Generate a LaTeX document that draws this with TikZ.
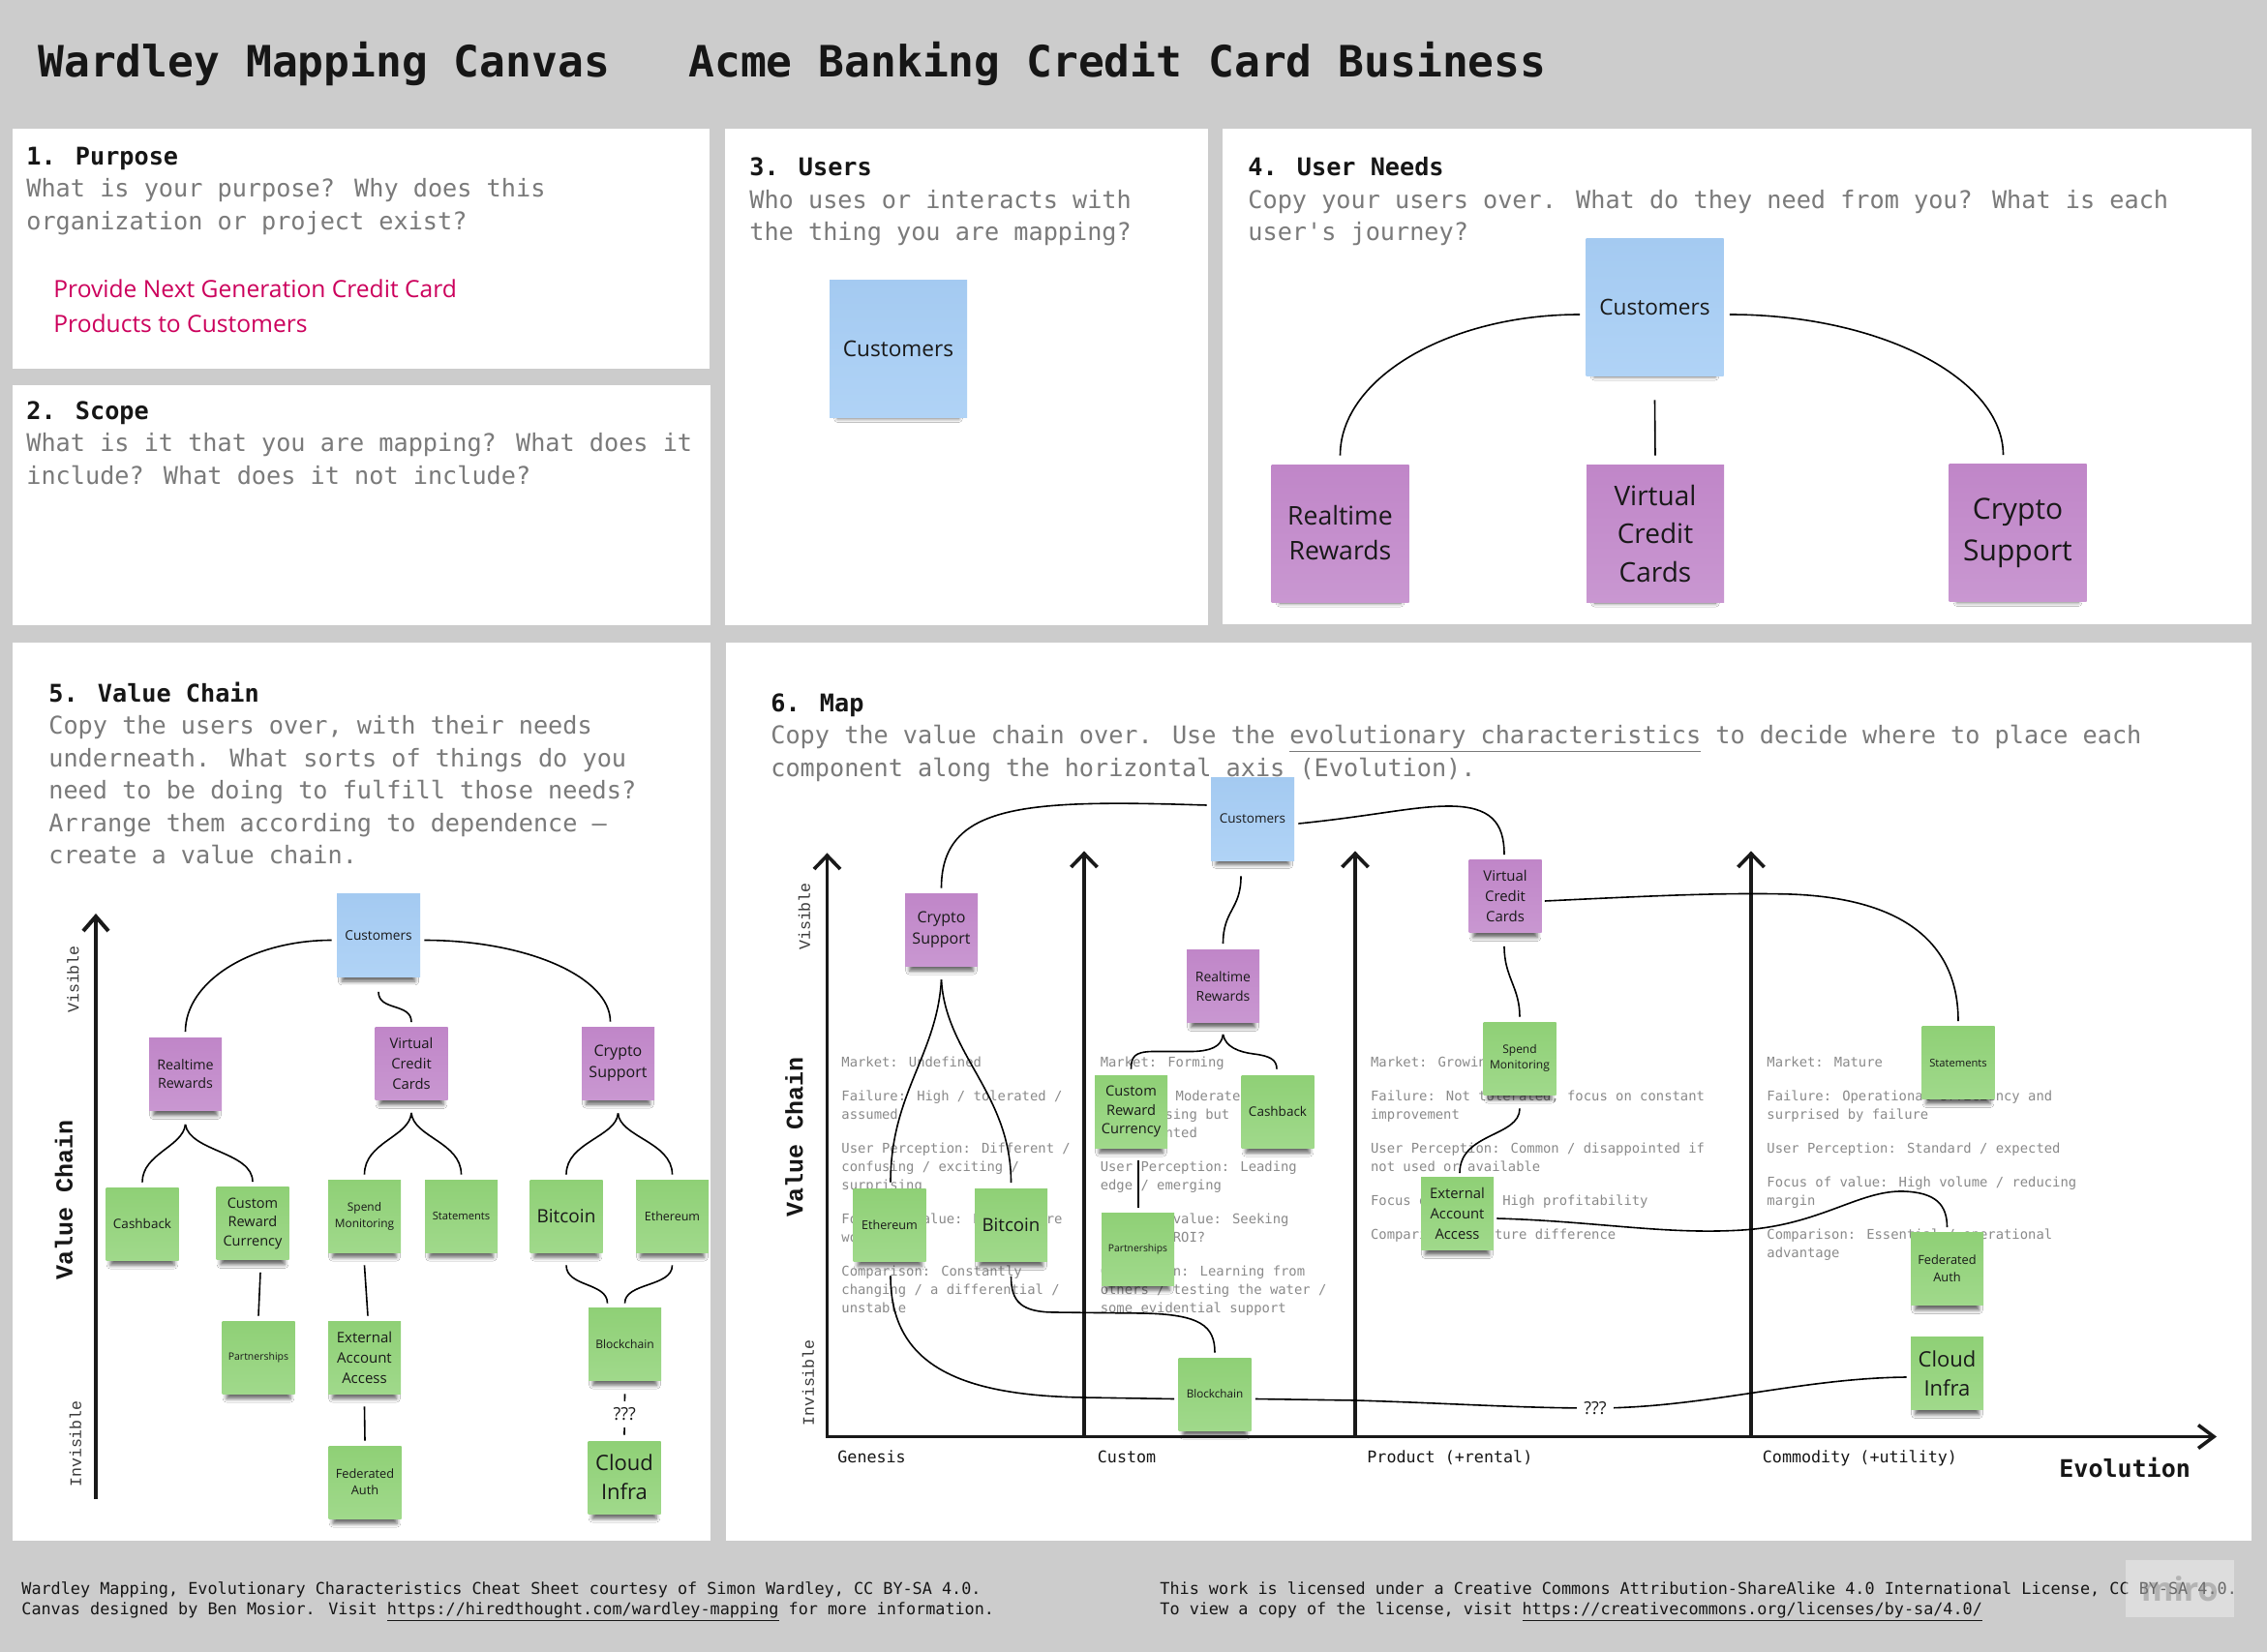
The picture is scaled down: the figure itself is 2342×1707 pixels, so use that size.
\documentclass[tikz,border=0pt]{standalone}
\usepackage{fontspec}
\setmainfont{Open Sans}
\newfontfamily\plex{DejaVu Sans Mono}
\newfontfamily\cour{Liberation Mono}
\usetikzlibrary{calc,shadows.blur}
\definecolor{bgray}{RGB}{204,204,204}
\definecolor{bodygray}{RGB}{122,122,122}
\definecolor{headblack}{RGB}{22,22,22}
\definecolor{chargray}{RGB}{138,138,138}
\definecolor{pinkred}{RGB}{204,0,92}
\definecolor{blueA}{RGB}{164,202,241}
\definecolor{blueB}{RGB}{176,211,246}
\definecolor{purpA}{RGB}{192,134,200}
\definecolor{purpB}{RGB}{201,151,209}
\definecolor{greenA}{RGB}{143,208,118}
\definecolor{greenB}{RGB}{160,217,139}
\definecolor{notetext}{RGB}{25,25,25}
\definecolor{axisblack}{RGB}{25,25,25}
\tikzset{
  txt/.style={anchor=base west, inner sep=0pt, align=left},
  ttl/.style={txt, font=\plex\bfseries\fontsize{22.3}{26}\selectfont, text=headblack},
  panel/.style={txt, font=\plex\fontsize{12.6}{16.75}\selectfont, text=bodygray},
  chr/.style={txt, font=\plex\fontsize{6.93}{9.5}\selectfont, text=chargray},
  evo/.style={txt, font=\plex\fontsize{8.35}{10}\selectfont, text=headblack},
  vislab/.style={rotate=90, inner sep=0pt, font=\cour\fontsize{8.3}{10}\selectfont, text=headblack!85},
  vchain/.style={rotate=90, inner sep=0pt, font=\cour\bfseries\fontsize{12.5}{15}\selectfont, text=headblack},
  foot/.style={txt, font=\plex\fontsize{8.4}{10.3}\selectfont, text=headblack},
  stick/.style={inner sep=0pt, align=center, text=notetext,
    blur shadow={shadow xshift=0pt, shadow yshift=-5.5pt, shadow scale=0.88, shadow blur radius=2.2pt, shadow opacity=60}},
  bnote/.style={stick, top color=blueA, bottom color=blueB},
  pnote/.style={stick, top color=purpA, bottom color=purpB},
  gnote/.style={stick, top color=greenA, bottom color=greenB},
  bigsq/.style={minimum width=71pt, minimum height=71pt},
  midsq/.style={minimum width=43pt, minimum height=43pt},
  smlsq/.style={minimum width=37.5pt, minimum height=37.5pt},
  fz/.style 2 args={font=\fontsize{#1}{#2}\selectfont},
  conn/.style={line width=0.8pt, draw=black},
  axln/.style={line width=1.8pt, draw=axisblack, line join=miter},
  qm/.style={fill=white, font=\fontsize{9}{10}\selectfont, text=notetext},
}
\begin{document}
\begin{tikzpicture}[x=0.5pt,y=-0.5pt]
\useasboundingbox (0,0) rectangle (2342,1707);
\fill[bgray] (0,0) rectangle (2342,1707);
% panels
\fill[white] (13,133) rectangle (733,381);
\fill[white] (13,398) rectangle (734,646);
\fill[white] (749,133) rectangle (1248,646);
\fill[white] (1263,133) rectangle (2326,645);
\fill[white] (13,664) rectangle (734,1592);
\fill[white] (750,664) rectangle (2326,1592);

% titles
\node[ttl] (ttl1) at (39,80) {Wardley Mapping Canvas};
\node[ttl] (ttl2) at (711,80) {Acme Banking Credit Card Business};

% panel texts (anchored at the baseline of their last line)
\node[panel] (t1) at (27,237) {\textcolor{headblack}{\bfseries 1. Purpose}\\What is your purpose? Why does this\\organization or project exist?};
\node[txt, fz={12.3}{17.5}, text=pinkred] (purp) at (55,343) {Provide Next Generation Credit Card\\Products to Customers};
\node[panel] (t2) at (27,500) {\textcolor{headblack}{\bfseries 2. Scope}\\What is it that you are mapping? What does it\\include? What does it not include?};
\node[panel] (t3) at (774,249) {\textcolor{headblack}{\bfseries 3. Users}\\Who uses or interacts with\\the thing you are mapping?};
\node[panel] (t4) at (1289,249) {\textcolor{headblack}{\bfseries 4. User Needs}\\Copy your users over. What do they need from you? What is each\\user's journey?};
\node[panel] (t5) at (50,892.5) {\textcolor{headblack}{\bfseries 5. Value Chain}\\Copy the users over, with their needs\\underneath. What sorts of things do you\\need to be doing to fulfill those needs?\\Arrange them according to dependence —\\create a value chain.};
\node[panel] (t6) at (796,802) {\textcolor{headblack}{\bfseries 6. Map}\\Copy the value chain over. Use the \underline{evolutionary characteristics} to decide where to place each\\component along the horizontal axis (Evolution).};

% ---------- panel 3 ----------
\node[bnote,bigsq,fz={11.3}{15.5}] (c3) at (928,360.5) {Customers};

% ---------- panel 4 ----------
\node[bnote,bigsq,fz={11.3}{15.5}] (c4) at (1709.5,317) {Customers};
\node[pnote,bigsq,fz={13.3}{18}] (rr4) at (1384.5,551) {Realtime\\Rewards};
\node[pnote,bigsq,fz={14}{19.75}] (vcc4) at (1710,551) {Virtual\\Credit\\Cards};
\node[pnote,bigsq,fz={15}{21.5}] (cs4) at (2084.5,550.5) {Crypto\\Support};
\draw[conn] ($(c4.west)+(-6,8)$) .. controls (1496,325) and (1384.5,391) .. ($(rr4.north)+(0,-9)$);
\draw[conn] ($(c4.south)+(0,25)$) -- ($(vcc4.north)+(0,-9)$);
\draw[conn] ($(c4.east)+(6,8)$) .. controls (1942,325) and (2069.5,391) .. ($(cs4.north)+(-15,-9)$);

% ---------- panel 5 ----------
\coordinate (a5b) at (99,1549);
\coordinate (a5t) at (99,947);
\draw[axln, line width=2pt] (a5b) -- (a5t);
\draw[axln, line width=2pt] ($(a5t)+(-13,15)$) -- (a5t) -- ($(a5t)+(13,15)$);
\node[vislab] (vis5) at (75.5,1012) {Visible};
\node[vislab] (inv5) at (78,1492) {Invisible};
\node[vchain] (vc5) at (66,1240) {Value Chain};

\node[bnote,midsq,fz={6.85}{9.4}] (c5) at (391,966.5) {Customers};
\node[pnote,smlsq,fz={7.15}{9.5}] (rr5) at (191.5,1110) {Realtime\\Rewards};
\node[pnote,smlsq,fz={7.4}{10.4}] (vcc5) at (425,1099) {Virtual\\Credit\\Cards};
\node[pnote,smlsq,fz={8}{10.85}] (cs5) at (638.5,1098.5) {Crypto\\Support};
\node[gnote,smlsq,fz={6.75}{9}] (cb5) at (147,1264.5) {Cashback};
\node[gnote,smlsq,fz={7.25}{9.75}] (crc5) at (261,1264) {Custom\\Reward\\Currency};
\node[gnote,smlsq,fz={5.95}{8.5}] (sm5) at (376.5,1256.5) {Spend\\Monitoring};
\node[gnote,smlsq,fz={5.6}{7.5}] (st5) at (476.5,1256.5) {Statements};
\node[gnote,smlsq,fz={9.5}{12}] (bt5) at (585,1256.5) {Bitcoin};
\node[gnote,smlsq,fz={6.25}{8}] (et5) at (694.5,1256.5) {Ethereum};
\node[gnote,smlsq,fz={5.25}{7}] (pt5) at (267,1402.5) {Partnerships};
\node[gnote,smlsq,fz={7.5}{10.5}] (ea5) at (376.5,1402.5) {External\\Account\\Access};
\node[gnote,smlsq,fz={6.4}{8.35}] (fa5) at (377,1531.5) {Federated\\Auth};
\node[gnote,smlsq,fz={6.05}{8}] (bc5) at (645.5,1388.5) {Blockchain};
\node[gnote,smlsq,fz={11}{15}] (ci5) at (645,1526.5) {Cloud\\Infra};

\draw[conn] ($(c5.west)+(-5,5)$) .. controls (260,971.5) and (191.5,1014) .. ($(rr5.north)+(0,-6)$);
\draw[conn] ($(c5.east)+(4,5)$) .. controls (544,971.5) and (630.5,1009.5) .. ($(cs5.north)+(-8,-5)$);
\draw[conn] ($(c5.south)+(0,15)$) .. controls (391,1045) and (425,1036) .. ($(vcc5.north)+(0,-5)$);
\draw[conn] ($(rr5.south)+(0,14)$) .. controls (189,1185) and (147,1192) .. ($(cb5.north)+(0,-5)$);
\draw[conn] ($(rr5.south)+(0,14)$) .. controls (196,1190) and (261,1190) .. ($(crc5.north)+(0,-5)$);
\draw[conn] ($(vcc5.south)+(0,13)$) .. controls (423,1175) and (376.5,1180) .. ($(sm5.north)+(0,-5)$);
\draw[conn] ($(vcc5.south)+(0,13)$) .. controls (427,1175) and (476.5,1180) .. ($(st5.north)+(0,-5)$);
\draw[conn] ($(cs5.south)+(0,14)$) .. controls (636.5,1175) and (585,1180) .. ($(bt5.north)+(0,-5)$);
\draw[conn] ($(cs5.south)+(0,14)$) .. controls (640.5,1175) and (694.5,1180) .. ($(et5.north)+(0,-5)$);
\draw[conn] ($(crc5.south)+(8,13)$) -- ($(pt5.north)+(0,-5)$);
\draw[conn] ($(sm5.south)+(0,13)$) -- ($(ea5.north)+(3.5,-5)$);
\draw[conn] ($(ea5.south)+(0,13)$) -- ($(fa5.north)+(0,-5)$);
\draw[conn] ($(bt5.south)+(0,13)$) .. controls (585,1330) and (627.5,1325) .. ($(bc5.north)+(-18,-4)$);
\draw[conn] ($(et5.south)+(0,13)$) .. controls (694.5,1330) and (645.5,1325) .. ($(bc5.north)+(0,-4)$);
\draw[conn] ($(bc5.south)+(0,14)$) -- node[qm, inner xsep=1pt, inner ysep=3.5pt] (q5) {???} ($(ci5.north)+(0,-6)$);

% ---------- panel 6 ----------
% characteristic texts (anchored at the baseline of their last line)
\node[chr] (g1) at (869,1356.5) {Market: Undefined\\[8pt]Failure: High / tolerated /\\assumed\\[8pt]User Perception: Different /\\confusing / exciting /\\surprising\\[8pt]Focus of value: High future\\worth\\[8pt]Comparison: Constantly\\changing / a differential /\\unstable};
\node[chr] (g2) at (1136.4,1356.5) {Market: Forming\\[8pt]Failure: Moderate /\\unsurprising but\\disappointed\\[8pt]User Perception: Leading\\edge / emerging\\[8pt]Focus of value: Seeking\\profit / ROI?\\[8pt]Comparison: Learning from\\others / testing the water /\\some evidential support};
\node[chr] (g3) at (1415.7,1280.5) {Market: Growing\\[8pt]Failure: Not tolerated, focus on constant\\improvement\\[8pt]User Perception: Common / disappointed if\\not used or available\\[8pt]Focus of value: High profitability\\[8pt]Comparison: Feature difference};
\node[chr] (g4) at (1825,1299.5) {Market: Mature\\[8pt]Failure: Operational efficiency and\\surprised by failure\\[8pt]User Perception: Standard / expected\\[8pt]Focus of value: High volume / reducing\\margin\\[8pt]Comparison: Essential / operational\\advantage};

% axes
\coordinate (o6) at (854.5,1484.5);
\coordinate (xe) at (2287,1484.5);
\coordinate (v1) at (854.5,884);
\coordinate (v2) at (1120,882);
\coordinate (v3) at (1400,882);
\coordinate (v4) at (1809,882);
\draw[axln] (v1) -- (o6) -- (xe);
\draw[axln] (v2 |- o6) -- (v2);
\draw[axln] (v3 |- o6) -- (v3);
\draw[axln] (v4 |- o6) -- (v4);
\foreach \v in {v1,v2,v3,v4}{
  \draw[axln] ($(\v)+(-13.5,14)$) -- (\v) -- ($(\v)+(13.5,14)$);
}
\draw[axln] ($(xe)+(-16,-12)$) -- (xe) -- ($(xe)+(-16,12)$);

\node[vislab] (vis6) at (831,947) {Visible};
\node[vislab] (inv6) at (835,1429) {Invisible};
\node[vchain] (vc6) at (820.5,1175) {Value Chain};
\node[evo] (e1) at (865,1511) {Genesis};
\node[evo] (e2) at (1133.5,1511) {Custom};
\node[evo] (e3) at (1412,1511) {Product (+rental)};
\node[evo] (e4) at (1820.5,1511) {Commodity (+utility)};
\node[txt, font=\plex\bfseries\fontsize{12.5}{15}\selectfont, text=headblack] (evol) at (2127,1526) {Evolution};

% stickies
\node[bnote,midsq,fz={6.75}{9.3}] (c6) at (1294,846) {Customers};
\node[pnote,smlsq,fz={8}{11.35}] (cs6) at (972.5,960.5) {Crypto\\Support};
\node[pnote,smlsq,fz={7}{9.75}] (rr6) at (1263.5,1019) {Realtime\\Rewards};
\node[gnote,smlsq,fz={7.3}{9.75}] (crc6) at (1168.5,1148.5) {Custom\\Reward\\Currency};
\node[gnote,smlsq,fz={6.75}{9}] (cb6) at (1320,1148.5) {Cashback};
\node[gnote,smlsq,fz={5.15}{7}] (pt6) at (1175.5,1290.5) {Partnerships};
\node[gnote,smlsq,fz={6.3}{8}] (et6) at (919,1265.5) {Ethereum};
\node[gnote,smlsq,fz={9.35}{12}] (bt6) at (1044.5,1266) {Bitcoin};
\node[gnote,smlsq,fz={5.85}{8}] (bc6) at (1255,1440.5) {Blockchain};
\node[pnote,smlsq,fz={7.45}{10.5}] (vcc6) at (1555,926) {Virtual\\Credit\\Cards};
\node[gnote,smlsq,fz={6}{8.25}] (sm6) at (1570,1093.5) {Spend\\Monitoring};
\node[gnote,smlsq,fz={7.4}{10.5}] (ea6) at (1505.5,1254) {External\\Account\\Access};
\node[gnote,smlsq,fz={5.6}{7.5}] (st6) at (2023,1098) {Statements};
\node[gnote,smlsq,fz={6.4}{9}] (fa6) at (2011.5,1311) {Federated\\Auth};
\node[gnote,smlsq,fz={11}{15}] (ci6) at (2011.5,1419) {Cloud\\Infra};

% connectors
\draw[conn] ($(c6.west)+(-4,-14)$) .. controls (1060,826) and (972.5,830) .. ($(cs6.north)+(0,-5)$);
\draw[conn] ($(c6.south)+(-12,16)$) .. controls (1282,940) and (1263.5,940) .. ($(rr6.north)+(0,-6)$);
\draw[conn] ($(c6.east)+(4,5)$) .. controls (1420,843) and (1460,833) .. (1497,833) .. controls (1540,833) and (1554,850) .. ($(vcc6.north)+(-1,-5)$);
\draw[conn] ($(vcc6.east)+(3,5)$) .. controls (1700,926) and (1780,922) .. (1850,924) .. controls (1960,928) and (2023,970) .. ($(st6.north)+(0,-5)$);
\draw[conn] ($(vcc6.south)+(-1,14)$) .. controls (1554,1010) and (1570,1020) .. ($(sm6.north)+(0,-5)$);
\draw[conn] ($(sm6.south)+(0,14)$) .. controls (1570,1175) and (1508,1170) .. ($(ea6.north)+(2.5,-4)$);
\draw[conn] ($(ea6.east)+(3,5)$) .. controls (1650,1262) and (1720,1276) .. (1800,1271) .. controls (1880,1266) and (1920,1230) .. (1966,1231) .. controls (2000,1232) and (2011.5,1245) .. ($(fa6.north)+(0,-5)$);
\draw[conn] ($(cs6.south)+(0,14)$) .. controls (968,1090) and (920,1130) .. ($(et6.north)+(1,-6)$);
\draw[conn] ($(cs6.south)+(0,14)$) .. controls (977,1090) and (1044.5,1130) .. ($(bt6.north)+(0,-6)$);
\draw[conn] ($(rr6.south)+(0,12)$) .. controls (1262,1082) and (1250,1086) .. (1232,1086.5) -- (1190,1086.5) .. controls (1172,1087) and (1168.5,1092) .. ($(crc6.north)+(0,-6)$);
\draw[conn] ($(rr6.south)+(0,12)$) .. controls (1266,1082) and (1280,1087) .. (1295,1089) .. controls (1312,1091) and (1319,1095) .. ($(cb6.north)+(-1,-6)$);
\draw[conn] ($(crc6.south)+(7.5,13)$) -- ($(pt6.north)+(0.5,-5)$);
\draw[conn] ($(bt6.south)+(0,15)$) .. controls (1044.5,1345) and (1055,1356) .. (1090,1356) -- (1180,1357) .. controls (1240,1358) and (1255,1370) .. ($(bc6.north)+(0,-5)$);
\draw[conn] ($(et6.south)+(1,15)$) .. controls (920,1410) and (990,1442) .. (1120,1444) -- ($(bc6.west)+(-4,5)$);
\draw[conn] ($(bc6.east)+(4,5)$) -- (1400,1447) .. controls (1500,1450) and (1570,1455) .. (1648,1455) node[qm, inner xsep=3.5pt, inner ysep=1pt] (q6) {???} .. controls (1760,1455) and (1860,1424) .. ($(ci6.west)+(-4,4)$);

% footer
\node[foot] (f1) at (22,1647) {Wardley Mapping, Evolutionary Characteristics Cheat Sheet courtesy of Simon Wardley, CC BY-SA 4.0.};
\node[foot] (f2) at (22,1668) {Canvas designed by Ben Mosior. Visit \underline{https://hiredthought.com/wardley-mapping} for more information.};
\node[foot] (f3) at (1198,1647) {This work is licensed under a Creative Commons Attribution-ShareAlike 4.0 International License, CC BY-SA 4.0.};
\node[foot] (f4) at (1198,1668) {To view a copy of the license, visit \underline{https://creativecommons.org/licenses/by-sa/4.0/}};
\node[fill=white, fill opacity=0.35, text opacity=0.45, text=gray, minimum width=56pt, minimum height=29.5pt, inner sep=0pt, font=\bfseries\fontsize{17}{18}\selectfont] (miro) at (2252,1641.5) {miro};
\end{tikzpicture}
\end{document}
